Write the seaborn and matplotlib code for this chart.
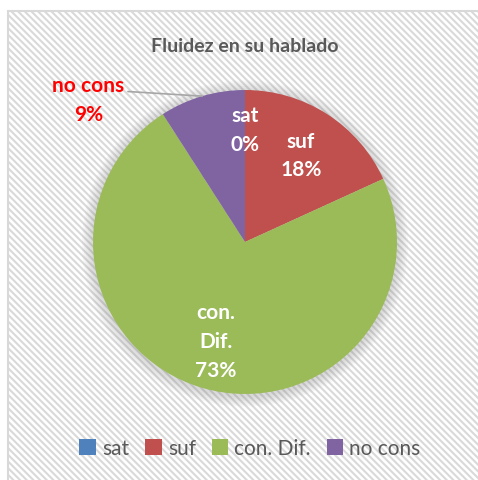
import numpy as np
import matplotlib
matplotlib.use("Agg")
import matplotlib.pyplot as plt
from matplotlib.patches import Patch, Rectangle, Circle
import seaborn as sns

# data
categories = ["sat", "suf", "con. Dif.", "no cons"]
counts = [0, 2, 8, 1]
label_names = ["sat", "suf", "con.\nDif.", "no cons"]
colors = ["#4F81BD", "#C0504D", "#9BBB59", "#8064A2"]
title = "Fluidez en su hablado"

sns.set_theme(style="white")
plt.rcParams["font.family"] = ["Lato", "DejaVu Sans"]
plt.rcParams["hatch.color"] = "#F3F3F3"
plt.rcParams["hatch.linewidth"] = 1.5

W, H = 478, 481
fig = plt.figure(figsize=(W / 100, H / 100), dpi=100)
fig.patch.set_facecolor("white")

# faint striped background + border like the Excel chart area
bg_ax = fig.add_axes([0, 0, 1, 1], zorder=0)
bg_ax.set_xlim(0, W)
bg_ax.set_ylim(H, 0)
bg_ax.axis("off")
bg_ax.add_patch(Rectangle((8, 12), W, H, facecolor="white", edgecolor="#D9D9D9",
                          linewidth=1.5, hatch="\\\\\\\\\\", clip_on=False))

# pie axes placed in pixels (center 245,243 ; radius 152)
cx, cy, r = 245, 243, 152
ax = fig.add_axes([(cx - r) / W, (H - cy - r) / H, 2 * r / W, 2 * r / H], zorder=2)
ax.set_facecolor("none")

# soft shadow around the pie
for k in range(6):
    ax.add_patch(Circle((0, -0.01), 1 + 0.012 * (k + 1), color="#808080",
                        alpha=0.05, lw=0, clip_on=False, zorder=0))

total = sum(counts)
wedges, _ = ax.pie(counts, colors=colors, startangle=90, counterclock=False,
                   radius=1, wedgeprops=dict(linewidth=0, zorder=1))
ax.set_xlim(-1, 1)
ax.set_ylim(-1, 1)
ax.set_aspect("equal")
ax.axis("off")

label_font = dict(fontsize=15, fontweight="bold", ha="center", va="center",
                  linespacing=1.55)
for w, name, c in zip(wedges, label_names, counts):
    mid = np.deg2rad((w.theta1 + w.theta2) / 2)
    txt = f"{name}\n{c / total:.0%}"
    if name == "no cons":
        # outside label with leader line
        ax.text(-1.03, 0.94, txt, color="#FF0000", clip_on=False, zorder=3, **label_font)
        ax.plot([-0.77, np.cos(mid)], [0.99, np.sin(mid)], color="#A6A6A6",
                lw=1.2, clip_on=False, zorder=3)
    elif c == 0:
        ax.text(0, 0.74, txt, color="white", zorder=3, **label_font)
    else:
        ax.text(0.68 * np.cos(mid), 0.68 * np.sin(mid), txt, color="white",
                zorder=3, **label_font)

fig.text(cx / W, 1 - 46 / H, title, ha="center", va="center", fontsize=14,
         fontweight="bold", color="#595959", zorder=3)

handles = [Patch(facecolor=col, edgecolor="none") for col in colors]
leg = fig.legend(handles, categories, loc="center", bbox_to_anchor=(250 / W, 1 - 449 / H),
                 ncol=4, frameon=False, fontsize=15, handlelength=0.8, handleheight=0.8,
                 handletextpad=0.3, columnspacing=0.75, labelcolor="#595959")
leg.set_zorder(3)

fig.savefig("out.png", dpi=100, facecolor="white")
